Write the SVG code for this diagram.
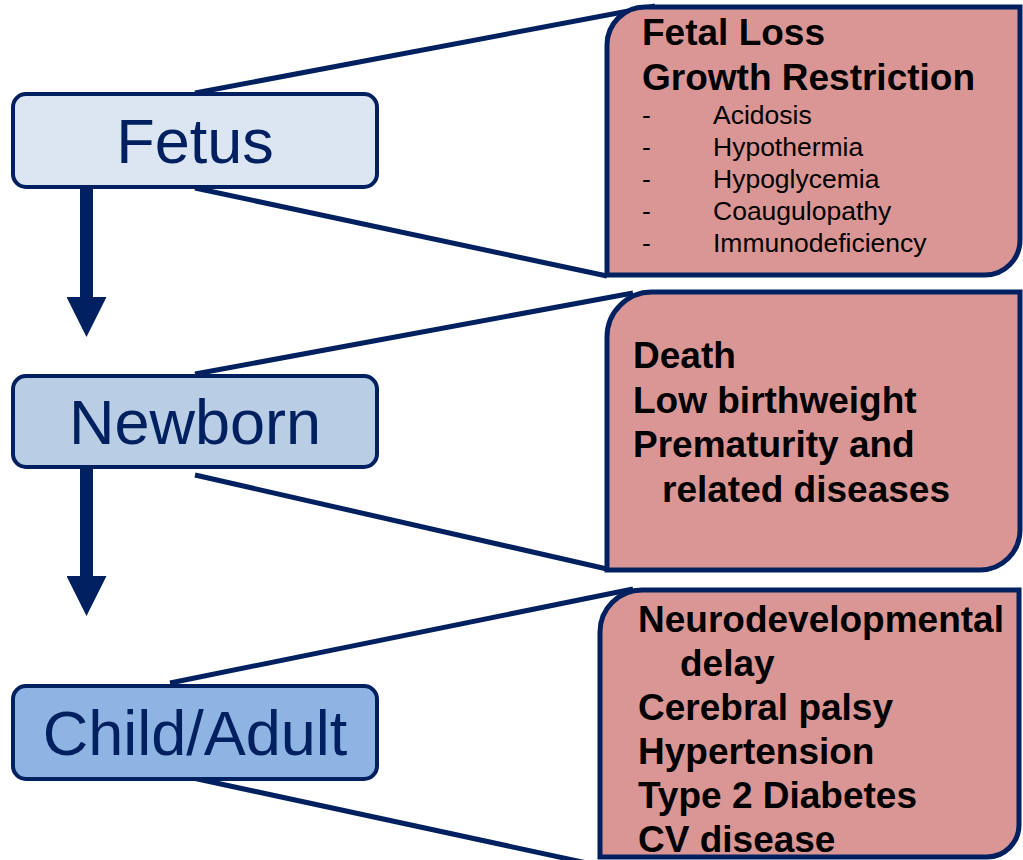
<svg xmlns="http://www.w3.org/2000/svg" width="1023" height="860" viewBox="0 0 1023 860">
<style>
.stage{stroke:#002060;stroke-width:4}
.stage-t{font-family:"Liberation Sans",Arial,sans-serif;font-size:63px;fill:#002060;text-anchor:middle}
.callout{fill:#D99694;stroke:#002060;stroke-width:5}
.b{font-family:"Liberation Sans",Arial,sans-serif;font-size:37px;font-weight:bold;fill:#000}
.s{font-family:"Liberation Sans",Arial,sans-serif;font-size:26.5px;fill:#000}
.conn{stroke:#002060;stroke-width:5;fill:none}
.arr{stroke:#002060;stroke-width:13;fill:none}
</style>
<defs>
<marker id="head" markerUnits="userSpaceOnUse" markerWidth="40" markerHeight="40" viewBox="0 0 40 40" refX="0" refY="20" orient="auto">
<path d="M0,0 L40,20 L0,40 Z" fill="#002060"/>
</marker>
</defs>
<rect width="1023" height="860" fill="#fff"/>
<g id="connectors">
<line class="conn" x1="195" y1="93" x2="655" y2="6"/>
<line class="conn" x1="195" y1="188" x2="607" y2="276"/>
<line class="conn" x1="195" y1="374" x2="633" y2="293"/>
<line class="conn" x1="195" y1="475" x2="607" y2="569"/>
<line class="conn" x1="170" y1="683" x2="633" y2="589"/>
<line class="conn" x1="170" y1="773" x2="610" y2="868"/>
<line class="arr" x1="86.5" y1="188" x2="86.5" y2="297" marker-end="url(#head)"/>
<line class="arr" x1="86.5" y1="468" x2="86.5" y2="576" marker-end="url(#head)"/>
</g>
<g id="fetus">
<rect class="stage" x="13" y="94" width="364" height="93" rx="13" fill="#DCE6F2"/>
<text class="stage-t" x="195" y="163">Fetus</text>
</g>
<g id="newborn">
<rect class="stage" x="13" y="376" width="364" height="91" rx="13" fill="#B9CDE5"/>
<text class="stage-t" x="195" y="444">Newborn</text>
</g>
<g id="child-adult">
<rect class="stage" x="13" y="686" width="364" height="93" rx="13" fill="#8EB4E3"/>
<text class="stage-t" x="195" y="755">Child/Adult</text>
</g>
<g id="fetus-outcomes">
<path class="callout" d="M645,7 H1020 V240 A35,35 0 0 1 985,275 H607 V45 A38,38 0 0 1 645,7 Z"/>
<text class="b" x="642" y="45">Fetal Loss</text>
<text class="b" x="642" y="90">Growth Restriction</text>
<text class="s" x="642" y="124">-</text><text class="s" x="713" y="124">Acidosis</text>
<text class="s" x="642" y="156">-</text><text class="s" x="713" y="156">Hypothermia</text>
<text class="s" x="642" y="188">-</text><text class="s" x="713" y="188">Hypoglycemia</text>
<text class="s" x="642" y="220">-</text><text class="s" x="713" y="220">Coaugulopathy</text>
<text class="s" x="642" y="252">-</text><text class="s" x="713" y="252">Immunodeficiency</text>
</g>
<g id="newborn-outcomes">
<path class="callout" d="M652,292 H1020 V530 A40,40 0 0 1 980,570 H607 V337 A45,45 0 0 1 652,292 Z"/>
<text class="b" x="633" y="368">Death</text>
<text class="b" x="633" y="413">Low birthweight</text>
<text class="b" x="633" y="457">Prematurity and</text>
<text class="b" x="662" y="502">related diseases</text>
</g>
<g id="child-adult-outcomes">
<path class="callout" d="M642,590 H1019 V825 A32,32 0 0 1 987,857 H600 V632 A42,42 0 0 1 642,590 Z"/>
<text class="b" x="638" y="632">Neurodevelopmental</text>
<text class="b" x="680" y="676">delay</text>
<text class="b" x="638" y="720">Cerebral palsy</text>
<text class="b" x="638" y="764">Hypertension</text>
<text class="b" x="638" y="808">Type 2 Diabetes</text>
<text class="b" x="638" y="852">CV disease</text>
</g>
</svg>
